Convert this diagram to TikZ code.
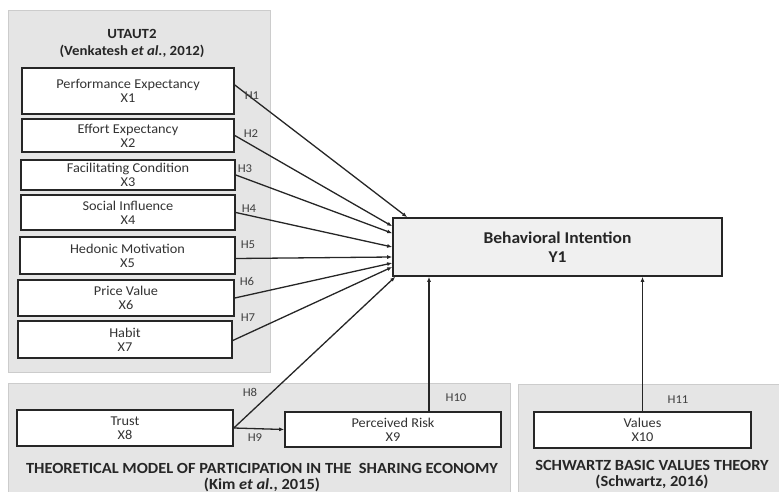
\documentclass[tikz,border=0pt]{standalone}
\usepackage{fontspec}
\setmainfont{Carlito}[FakeStretch=1.06]
\usepackage{xcolor}
\usetikzlibrary{positioning, arrows.meta}

\begin{document}
\begin{tikzpicture}[
    x = 1pt, y = -1pt,
    panel/.style = {fill=black!10, draw=black!20, line width=0.8pt},
    var/.style = {
        draw=black!85, line width=1.6pt, fill=white, rectangle, inner sep=0pt,
        align=center, text=black!80, font=\fontsize{13.5}{14}\selectfont
    },
    title/.style = {align=center, inner sep=0pt, text=black!85, font=\bfseries\fontsize{14}{17}\selectfont},
    hyp/.style = {inner sep=0pt, text=black!75, font=\fontsize{12}{13}\selectfont},
    arr/.style = {-{Latex[length=5pt,width=4pt]}, line width=1.3pt, draw=black!85}
  ]
    \useasboundingbox (0,0) rectangle (779,492);

    % grey panels
    \path[panel] (8,10) rectangle (270,372);
    \path[panel] (8,383) rectangle (510,500);
    \path[panel] (518,384) rectangle (785,500);

    \node[title] (utaut) at (132,43) {UTAUT2\\(Venkatesh \textit{et al.}, 2012)};
    \node[title, font=\bfseries\fontsize{15.5}{16.5}\selectfont] (share) at (262,477.5) {THEORETICAL MODEL OF PARTICIPATION IN THE\ \ SHARING ECONOMY\\(Kim \textit{et al.}, 2015)};
    \node[title, font=\bfseries\fontsize{15.5}{16}\selectfont] (schw) at (652,475) {SCHWARTZ BASIC VALUES THEORY\\(Schwartz, 2016)};

    % variables
    \node[var, minimum width=212pt, minimum height=46pt] (x1) at (128,91) {Performance Expectancy\\X1};
    \node[var, minimum width=212pt, minimum height=33pt] (x2) at (128,135.5) {Effort Expectancy\\X2};
    \node[var, minimum width=214pt, minimum height=30pt] (x3) at (128,175) {Facilitating Condition\\X3};
    \node[var, minimum width=214pt, minimum height=35pt] (x4) at (128,212.5) {Social Influence\\X4};
    \node[var, minimum width=215pt, minimum height=37pt] (x5) at (127.5,255.5) {Hedonic Motivation\\X5};
    \node[var, minimum width=216pt, minimum height=36pt] (x6) at (126,298) {Price Value\\X6};
    \node[var, minimum width=214pt, minimum height=37pt] (x7) at (125,339.5) {Habit\\X7};
    \node[var, minimum width=216pt, minimum height=36pt] (x8) at (125,428) {Trust\\X8};
    \node[var, minimum width=216pt, minimum height=35pt] (x9) at (393,429.5) {Perceived Risk\\X9};
    \node[var, minimum width=217pt, minimum height=36pt] (x10) at (642.5,430) {Values\\X10};

    % dependent variable
    \node[var, fill=black!6, minimum width=329pt, minimum height=58pt,
          font=\bfseries\fontsize{16.5}{19}\selectfont, text=black!85] (y1) at (557.5,247) {Behavioral Intention\\Y1};

    % hypotheses
    \draw[arr] ([yshift=6pt]x1.east) -- ([xshift=15pt]y1.north west);
    \draw[arr] (x2.east) -- ([yshift=-9pt]y1.north west);
    \draw[arr] (x3.east) -- ([yshift=-16pt]y1.north west);
    \draw[arr] (x4.east) -- (y1.west);
    \draw[arr] ([yshift=-3pt]x5.east) -- ([yshift=-10pt]y1.west);
    \draw[arr] (x6.east) -- ([yshift=-16pt]y1.west);
    \draw[arr] ([yshift=-1pt]x7.east) -- ([yshift=-20pt]y1.west);
    \draw[arr] (x8.east) -- ([xshift=3pt]y1.south west);
    \draw[arr] (x8.east) -- (x9.west);
    \draw[arr] ([xshift=36pt]x9.north) -- ([xshift=36pt]x9.north |- y1.south);
    \draw[arr] (x10.north) -- (x10.north |- y1.south);

    \node[hyp] (h1) at (252,96) {H1};
    \node[hyp] (h2) at (251,134) {H2};
    \node[hyp] (h3) at (245,169) {H3};
    \node[hyp] (h4) at (249,209) {H4};
    \node[hyp] (h5) at (248,245) {H5};
    \node[hyp] (h6) at (247,281) {H6};
    \node[hyp] (h7) at (248,318) {H7};
    \node[hyp] (h8) at (250,392) {H8};
    \node[hyp] (h9) at (255,438) {H9};
    \node[hyp] (h10) at (456,398) {H10};
    \node[hyp] (h11) at (678,400) {H11};
\end{tikzpicture}
\end{document}
